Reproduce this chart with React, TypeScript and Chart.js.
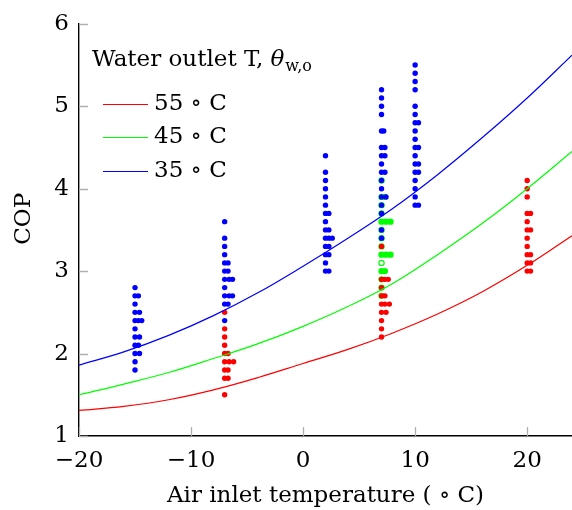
import React, { useEffect, useRef } from "react";
import { Chart, registerables } from "chart.js";

Chart.register(...registerables);

const xTicks = [-20, -10, 0, 10, 20];
const yTicks = [1, 2, 3, 4, 5, 6];

// fitted model curves
const curveX = [-20, -16, -12, -8, -4, 0, 4, 8, 12, 16, 20, 24];
const curve55 = [1.31, 1.36, 1.44, 1.56, 1.71, 1.88, 2.05, 2.25, 2.48, 2.75, 3.07, 3.43];
const curve45 = [1.5, 1.63, 1.77, 1.94, 2.12, 2.33, 2.57, 2.85, 3.2, 3.58, 4.0, 4.45];
const curve35 = [1.86, 2.02, 2.22, 2.46, 2.74, 3.06, 3.4, 3.76, 4.17, 4.62, 5.1, 5.62];

const legendTitle = "Water outlet T, ";
const legendLabels = ["55 ∘ C", "45 ∘ C", "35 ∘ C"];
const xTitle = "Air inlet temperature ( ∘ C)";
const yTitle = "COP";

// measured points [air inlet temperature, COP]
const points35: [number, number][] = [
  [-15, 2.8], [-15, 2.7], [-14.7, 2.7], [-15, 2.6], [-15, 2.5], [-14.6, 2.5], [-15, 2.4], [-14.7, 2.4], [-14.4, 2.4],
  [-15, 2.3], [-15, 2.2], [-14.6, 2.2], [-15, 2.1], [-14.7, 2.1], [-15, 2.0], [-14.6, 2.0], [-15, 1.9], [-15, 1.8],
  [-7, 3.6], [-7, 3.4], [-7, 3.3], [-7, 3.2], [-7, 3.1], [-6.7, 3.1], [-7, 3.0], [-6.7, 3.0], [-7, 2.9], [-6.6, 2.9],
  [-6.3, 2.9], [-7, 2.8], [-7, 2.7], [-6.6, 2.7], [-6.3, 2.7], [-7, 2.6], [-6.7, 2.6], [-7, 2.4],
  [2, 4.4], [2, 4.2], [2, 4.1], [2, 4.0], [2, 3.9], [2, 3.8], [2, 3.7], [2.3, 3.7], [2, 3.6], [2, 3.5], [2.3, 3.5],
  [2, 3.4], [2.3, 3.4], [2.6, 3.4], [2, 3.3], [2.3, 3.3], [2, 3.2], [2.3, 3.2], [2, 3.1], [2, 3.0], [2.3, 3.0],
  [7, 5.2], [7, 5.1], [7, 5.0], [7, 4.9], [7, 4.7], [7.2, 4.7], [7, 4.5], [7.3, 4.5], [7, 4.4], [7.3, 4.4], [7, 4.3],
  [7, 4.2], [7.3, 4.2], [7, 4.1], [7, 4.0], [7, 3.9], [7.4, 3.9], [7, 3.8], [7, 3.7], [7, 3.5], [7, 3.4],
  [10, 5.5], [10, 5.4], [10, 5.3], [10, 5.2], [10, 5.0], [10, 4.9], [10, 4.8], [10.3, 4.8], [10, 4.7], [10, 4.6],
  [10, 4.5], [10.3, 4.5], [10, 4.4], [10, 4.3], [10.3, 4.3], [10, 4.2], [10.3, 4.2], [10, 4.1], [10, 4.0], [10, 3.9],
  [10, 3.8], [10.3, 3.8],
];

const points45: [number, number][] = [
  [7, 4.1], [7, 3.9], [7.3, 3.9], [7, 3.8], [7, 3.7], [7, 3.6], [7.4, 3.6], [7.8, 3.6], [7, 3.5], [7, 3.4], [7, 3.3],
  [7, 3.2], [7.4, 3.2], [7.8, 3.2], [7, 3.0], [7.3, 3.0], [7, 2.9], [7, 2.8], [7, 2.7],
];
const points45Open: [number, number][] = [[7, 3.1]];

const points55: [number, number][] = [
  [-7, 2.5], [-7, 2.3], [-7, 2.2], [-7, 2.1], [-7, 2.0], [-6.7, 2.0], [-7, 1.9], [-6.6, 1.9], [-6.2, 1.9], [-7, 1.8],
  [-6.7, 1.8], [-7, 1.7], [-6.7, 1.7], [-7, 1.5],
  [7, 3.3], [7, 2.9], [7.3, 2.9], [7.6, 2.9], [7, 2.8], [7, 2.7], [7.3, 2.7], [7, 2.6], [7.3, 2.6], [7.7, 2.6],
  [7, 2.5], [7.4, 2.5], [7, 2.4], [7, 2.3], [7, 2.2],
  [20, 4.1], [20, 4.0], [20, 3.9], [20, 3.7], [20.3, 3.7], [20, 3.6], [20, 3.5], [20.3, 3.5], [20, 3.4], [20, 3.3],
  [20, 3.2], [20.3, 3.2], [20, 3.1], [20.3, 3.1], [20, 3.0], [20.3, 3.0],
];

const RED = "#ff0000";
const GREEN = "#00ff00";
const BLUE = "#0000ff";
const FONT = "'DejaVu Serif', serif";

const toXY = (pts: [number, number][]) => pts.map(([x, y]) => ({ x, y }));
const curveXY = (ys: number[]) => curveX.map((x, i) => ({ x, y: ys[i] }));

const innerTicks = {
  id: "innerTicks",
  afterDatasetsDraw(chart: any) {
    const { ctx, chartArea, scales } = chart;
    ctx.save();
    ctx.strokeStyle = "#b0b0b0";
    ctx.lineWidth = 1.3;
    ctx.beginPath();
    for (const v of xTicks) {
      const px = Math.round(scales.x.getPixelForValue(v)) + 0.5;
      ctx.moveTo(px, chartArea.bottom);
      ctx.lineTo(px, chartArea.bottom - 9);
    }
    for (const v of yTicks) {
      const py = Math.round(scales.y.getPixelForValue(v)) + 0.5;
      ctx.moveTo(chartArea.left, py);
      ctx.lineTo(chartArea.left + 9, py);
    }
    ctx.stroke();
    ctx.restore();
  },
};

const textBits = {
  id: "textBits",
  afterDraw(chart: any) {
    const { ctx, chartArea } = chart;
    const left = chartArea.left + 13;
    ctx.save();
    ctx.fillStyle = "#000";

    // y axis title
    ctx.save();
    ctx.translate(24, chartArea.top + 195);
    ctx.rotate(-Math.PI / 2);
    ctx.textAlign = "center";
    ctx.textBaseline = "middle";
    ctx.font = `23px ${FONT}`;
    ctx.fillText(yTitle, 0, 0);
    ctx.restore();

    // legend
    ctx.textBaseline = "alphabetic";
    ctx.textAlign = "left";
    ctx.font = `23px ${FONT}`;
    const titleY = chartArea.top + 42;
    ctx.fillText(legendTitle, left, titleY);
    let x = left + ctx.measureText(legendTitle).width;
    ctx.font = `italic 23px ${FONT}`;
    ctx.fillText("θ", x, titleY);
    x += ctx.measureText("θ").width + 1;
    ctx.font = `16px ${FONT}`;
    ctx.fillText("w,o", x, titleY + 5);

    const colors = [RED, GREEN, BLUE];
    ctx.font = `23px ${FONT}`;
    ctx.textBaseline = "middle";
    legendLabels.forEach((lab, i) => {
      const y = chartArea.top + 80 + i * 33.5;
      ctx.strokeStyle = colors[i];
      ctx.lineWidth = 1.2;
      ctx.beginPath();
      ctx.moveTo(left + 11, Math.round(y) + 0.5);
      ctx.lineTo(left + 56, Math.round(y) + 0.5);
      ctx.stroke();
      ctx.fillText(lab, left + 62, y);
    });
    ctx.restore();
  },
};

export default function App() {
  const ref = useRef<HTMLCanvasElement>(null);

  useEffect(() => {
    if (!ref.current) return;
    const pointDs = (label: string, pts: [number, number][], color: string, r: number, order: number, fill?: string) => ({
      label,
      data: toXY(pts),
      showLine: false,
      pointRadius: r,
      pointHoverRadius: r,
      pointBackgroundColor: fill ?? color,
      pointBorderColor: color,
      pointBorderWidth: fill ? 1.2 : 0,
      order,
    });
    const lineDs = (label: string, ys: number[], color: string) => ({
      label,
      data: curveXY(ys),
      showLine: true,
      borderColor: color,
      borderWidth: 1.2,
      pointRadius: 0,
      tension: 0.4,
      order: 0,
    });

    const chart = new Chart(ref.current, {
      type: "scatter",
      data: {
        datasets: [
          lineDs("55 °C", curve55, RED),
          lineDs("45 °C", curve45, GREEN),
          lineDs("35 °C", curve35, BLUE),
          pointDs("35 pts", points35, BLUE, 2.7, 1),
          pointDs("55 pts", points55, RED, 2.7, 2),
          pointDs("45 open", points45Open, GREEN, 2.6, 3, "#ffffff"),
          pointDs("45 pts", points45, GREEN, 3.2, 4),
        ] as any,
      },
      options: {
        responsive: false,
        animation: false,
        events: [],
        layout: { autoPadding: false, padding: { top: 21, right: 0, left: 0, bottom: 0 } },
        plugins: { legend: { display: false }, tooltip: { enabled: false } },
        scales: {
          x: {
            type: "linear",
            min: -20,
            max: 24,
            afterBuildTicks: (s: any) => {
              s.ticks = xTicks.map((v) => ({ value: v }));
            },
            afterFit: (s: any) => {
              s.height = 74;
            },
            grid: { display: false, drawTicks: false },
            border: { display: true, color: "#000", width: 1.4 },
            ticks: {
              color: "#000",
              font: { family: FONT, size: 23 },
              padding: 11,
              callback: (v: any) => (Number(v) < 0 ? "−" + Math.abs(Number(v)) : String(v)),
            },
            title: {
              display: true,
              text: xTitle,
              color: "#000",
              font: { family: FONT, size: 23 },
              padding: { top: 0, bottom: 0 },
            },
          },
          y: {
            type: "linear",
            min: 1,
            max: 6,
            afterBuildTicks: (s: any) => {
              s.ticks = yTicks.map((v) => ({ value: v }));
            },
            afterFit: (s: any) => {
              s.width = 79;
            },
            grid: { display: false, drawTicks: false },
            border: { display: true, color: "#000", width: 1.4 },
            ticks: {
              color: "#000",
              font: { family: FONT, size: 23 },
              padding: 10,
            },
          },
        },
      },
      plugins: [innerTicks, textBits],
    });
    return () => chart.destroy();
  }, []);

  return (
    <div style={{ position: "absolute", left: 0, top: 0, width: 572, height: 510, background: "#fff" }}>
      <canvas ref={ref} width={572} height={510} />
    </div>
  );
}
